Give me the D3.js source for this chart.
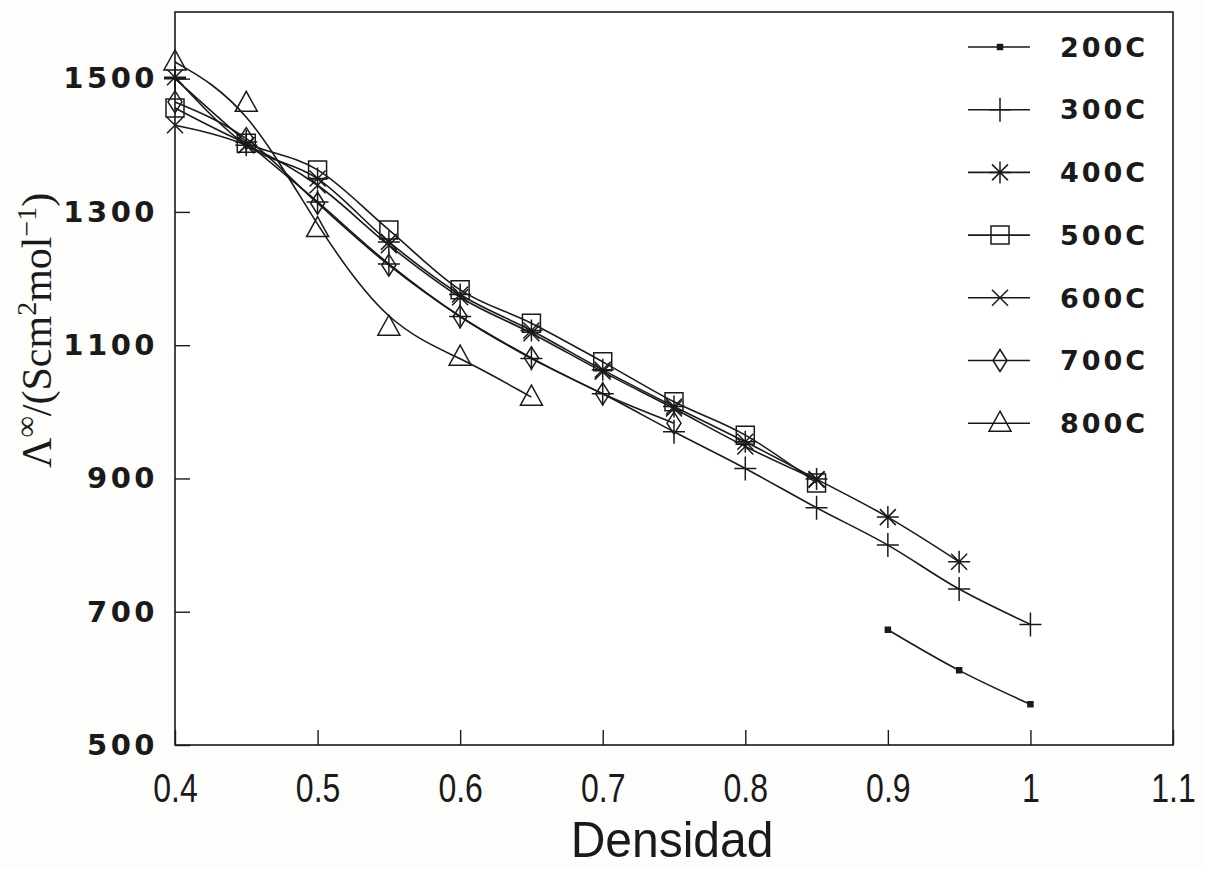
<!DOCTYPE html>
<html>
<head>
<meta charset="utf-8">
<script src="https://cdn.jsdelivr.net/npm/d3@7"></script>
<style>
  html, body { margin: 0; padding: 0; background: #fdfdfb; }
  svg { display: block; }
</style>
</head>
<body>
<svg id="chart" width="1205" height="869"></svg>
<script>
// Densidad (g/cm3) at which the limiting conductance was evaluated
const densidad = [0.40, 0.45, 0.50, 0.55, 0.60, 0.65, 0.70, 0.75, 0.80, 0.85, 0.90, 0.95, 1.00];

// Limiting molar conductance, S cm^2 mol^-1 (null = no value at that density)
const lambda200C = [null, null, null, null, null, null, null, null, null, null, 673, 612, 561];
const lambda300C = [1500, 1405, 1315, 1222, 1143, 1080, 1027, 970, 915, 856, 800, 734, 681];
const lambda400C = [1502, 1400, 1350, 1255, 1176, 1122, 1063, 1008, 955, 899, 842, 775, null];
const lambda500C = [1456, 1403, 1363, 1273, 1183, 1133, 1075, 1015, 965, 893, null, null, null];
const lambda600C = [1430, 1400, 1340, 1250, 1172, 1118, 1060, 1005, 948, 898, null, null, null];
const lambda700C = [1465, 1410, 1313, 1220, 1143, 1081, 1027, 983, null, null, null, null, null];
const lambda800C = [1525, 1463, 1275, 1127, 1082, 1022, null, null, null, null, null, null, null];

const seriesNames = ["200C", "300C", "400C", "500C", "600C", "700C", "800C"];
const seriesValues = [lambda200C, lambda300C, lambda400C, lambda500C, lambda600C, lambda700C, lambda800C];
const seriesMarkers = ["dot", "plus", "asterisk", "square", "cross", "diamond", "triangle"];
// the 800C data are joined by a smoothing spline, the rest by a monotone curve
const seriesSmooth = [false, false, false, false, false, false, true];

const xTickValues = [0.4, 0.5, 0.6, 0.7, 0.8, 0.9, 1.0, 1.1];
const xTickLabels = ["0.4", "0.5", "0.6", "0.7", "0.8", "0.9", "1", "1.1"];
const yTickValues = [500, 700, 900, 1100, 1300, 1500];

const ink = "#1a1a1a";
const svg = d3.select("#chart");

const x = d3.scaleLinear().domain([0.4, 1.1]).range([175, 1173]);
const y = d3.scaleLinear().domain([500, 1600]).range([745, 12]);

// marker path generators, centred on (0,0)
function markerPath(type) {
  const p = d3.path();
  switch (type) {
    case "dot":
      p.rect(-2.5, -2.5, 5, 5); break;
    case "plus":
      p.moveTo(-11, 0); p.lineTo(11, 0);
      p.moveTo(0, -12); p.lineTo(0, 12); break;
    case "asterisk":
      p.moveTo(-11, 0); p.lineTo(11, 0);
      p.moveTo(0, -11); p.lineTo(0, 11);
      p.moveTo(-8, -8); p.lineTo(8, 8);
      p.moveTo(-8, 8); p.lineTo(8, -8); break;
    case "square":
      p.rect(-9, -9, 18, 18); break;
    case "cross":
      p.moveTo(-8, -8); p.lineTo(8, 8);
      p.moveTo(-8, 8); p.lineTo(8, -8); break;
    case "diamond":
      p.moveTo(0, -11); p.lineTo(7, 0); p.lineTo(0, 11); p.lineTo(-7, 0); p.closePath(); break;
    case "triangle":
      p.moveTo(0, -12); p.lineTo(11, 8); p.lineTo(-11, 8); p.closePath(); break;
  }
  return p.toString();
}

// frame
svg.append("rect")
  .attr("x", x(0.4)).attr("y", y(1600))
  .attr("width", x(1.1) - x(0.4)).attr("height", y(500) - y(1600))
  .attr("fill", "#ffffff").attr("stroke", ink).attr("stroke-width", 1.6);

// axes with inward ticks
const xAxis = d3.axisBottom(x)
  .tickValues(xTickValues)
  .tickFormat((d, i) => xTickLabels[i])
  .tickSizeInner(-15).tickSizeOuter(0).tickPadding(29);
const gx = svg.append("g").attr("transform", `translate(0,${y(500)})`).call(xAxis);
gx.select(".domain").remove();
gx.selectAll(".tick line").attr("stroke", ink).attr("stroke-width", 1.4);
gx.selectAll(".tick text")
  .attr("fill", ink)
  .attr("transform", "scale(0.8,1)")
  .style("font-family", "'Liberation Sans', Arial, sans-serif")
  .style("font-size", "40px");

const yAxis = d3.axisLeft(y)
  .tickValues(yTickValues)
  .tickFormat(d3.format("d"))
  .tickSizeInner(-15).tickSizeOuter(0).tickPadding(17);
const gy = svg.append("g").attr("transform", `translate(${x(0.4)},0)`).call(yAxis);
gy.select(".domain").remove();
gy.selectAll(".tick line").attr("stroke", ink).attr("stroke-width", 1.4);
gy.selectAll(".tick text")
  .attr("fill", ink)
  .style("font-family", "'DejaVu Sans', sans-serif")
  .style("font-weight", "bold")
  .style("letter-spacing", "3.5px")
  .style("font-size", "29px");

// axis titles
svg.append("text")
  .attr("transform", "translate(672,857) scale(1,1.05)")
  .attr("text-anchor", "middle")
  .attr("fill", ink)
  .style("font-family", "'Liberation Sans', Arial, sans-serif")
  .style("font-size", "48px")
  .text("Densidad");

// rotated title, reading upward from its baseline start near y = 468
const yTitle = svg.append("text")
  .attr("fill", ink)
  .attr("text-anchor", "start")
  .attr("transform", "translate(51,468) rotate(-90)")
  .style("font-family", "'Liberation Serif', 'DejaVu Serif', serif")
  .style("font-size", "42px");
yTitle.append("tspan").text("Λ");
yTitle.append("tspan").attr("dy", -15).style("font-size", "30px").text("∞");
yTitle.append("tspan").attr("dy", 15).text("/(Scm");
yTitle.append("tspan").attr("dy", -15).style("font-size", "28px").text("2");
yTitle.append("tspan").attr("dy", 15).text("mol");
yTitle.append("tspan").attr("dy", -15).style("font-size", "28px").text("−1");
yTitle.append("tspan").attr("dy", 15).text(")");

// curves through each series
const plot = svg.append("g");
seriesValues.forEach((vals, i) => {
  const pts = densidad.map((d, j) => [d, vals[j]]).filter(p => p[1] !== null);
  const line = d3.line()
    .x(d => x(d[0]))
    .y(d => y(d[1]))
    .curve(seriesSmooth[i] ? d3.curveBasis : d3.curveMonotoneX);
  plot.append("path")
    .attr("d", line(pts))
    .attr("fill", "none")
    .attr("stroke", ink)
    .attr("stroke-width", 1.6);
  plot.selectAll(null)
    .data(pts)
    .join("path")
    .attr("transform", p => `translate(${x(p[0])},${y(p[1])})`)
    .attr("d", markerPath(seriesMarkers[i]))
    .attr("fill", seriesMarkers[i] === "dot" ? ink : "none")
    .attr("stroke", ink)
    .attr("stroke-width", 1.5);
});

// legend
const legend = svg.append("g").attr("transform", "translate(968,47)");
seriesNames.forEach((name, i) => {
  const row = legend.append("g").attr("transform", `translate(0,${i * 62.7})`);
  row.append("line").attr("x1", 0).attr("x2", 62).attr("y1", 0).attr("y2", 0)
    .attr("stroke", ink).attr("stroke-width", 1.6);
  row.append("path")
    .attr("transform", "translate(32,0)")
    .attr("d", markerPath(seriesMarkers[i]))
    .attr("fill", seriesMarkers[i] === "dot" ? ink : "none")
    .attr("stroke", ink).attr("stroke-width", 1.5);
  row.append("text")
    .attr("x", 92).attr("y", 0).attr("dy", "0.36em")
    .attr("fill", ink)
    .style("font-family", "'DejaVu Sans', sans-serif")
    .style("font-weight", "bold")
    .style("letter-spacing", "3px")
    .style("font-size", "27px")
    .text(name);
});
</script>
</body>
</html>
